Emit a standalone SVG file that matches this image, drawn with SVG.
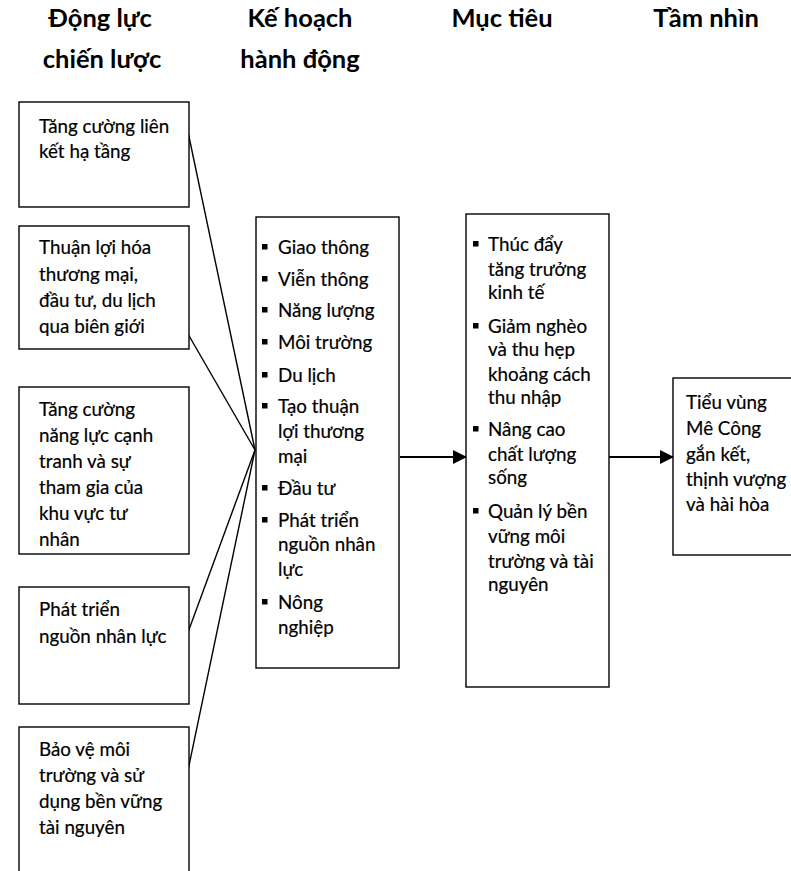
<svg xmlns="http://www.w3.org/2000/svg" width="791" height="871" viewBox="0 0 791 871">
<defs>
<style>
.t{font-family:Lato,"Noto Sans","DejaVu Sans",sans-serif;font-size:18.8px;fill:#000;stroke:#000;stroke-width:0.2}
.h{font-family:Lato,"Noto Sans","DejaVu Sans",sans-serif;font-size:25.5px;font-weight:bold;fill:#000;text-anchor:middle}
.box{fill:#fff;stroke:#000;stroke-width:1.4}
.ln{stroke:#000;stroke-width:1.4;fill:none}
.ar{stroke:#000;stroke-width:2;fill:none}
.b{fill:#000}
</style>
<marker id="ah" markerWidth="14" markerHeight="14" refX="13" refY="7" orient="auto" markerUnits="userSpaceOnUse">
<path d="M0,0 L14,7 L0,14 Z" fill="#000"/>
</marker>
</defs>
<rect width="791" height="871" fill="#fff"/>
<g id="titles">
<text class="h" x="100" y="27">Động lực</text>
<text class="h" x="102" y="68">chiến lược</text>
<text class="h" x="300" y="27">Kế hoạch</text>
<text class="h" x="300" y="68">hành động</text>
<text class="h" x="502" y="27">Mục tiêu</text>
<text class="h" x="706" y="27">Tầm nhìn</text>
</g>
<g id="connectors">
<line class="ln" x1="188" y1="132" x2="255" y2="450"/>
<line class="ln" x1="188" y1="334" x2="255" y2="450"/>
<line class="ln" x1="187" y1="635" x2="255" y2="450"/>
<line class="ln" x1="187" y1="775" x2="255" y2="450"/>
<line class="ar" x1="400" y1="457" x2="466" y2="457" marker-end="url(#ah)"/>
<line class="ar" x1="609" y1="457" x2="673" y2="457" marker-end="url(#ah)"/>
</g>
<g id="driver1">
<rect class="box" x="19" y="102" width="170" height="105"/>
<text class="t" x="39" y="133">Tăng cường liên</text>
<text class="t" x="39" y="158">kết hạ tầng</text>
</g>
<g id="driver2">
<rect class="box" x="19" y="226" width="170" height="123"/>
<text class="t" x="39" y="254">Thuận lợi hóa</text>
<text class="t" x="39" y="281">thương mại,</text>
<text class="t" x="39" y="307">đầu tư, du lịch</text>
<text class="t" x="39" y="333">qua biên giới</text>
</g>
<g id="driver3">
<rect class="box" x="19" y="387" width="170" height="167"/>
<text class="t" x="39" y="416">Tăng cường</text>
<text class="t" x="39" y="442">năng lực cạnh</text>
<text class="t" x="39" y="468">tranh và sự</text>
<text class="t" x="39" y="494">tham gia của</text>
<text class="t" x="39" y="520">khu vực tư</text>
<text class="t" x="39" y="546">nhân</text>
</g>
<g id="driver4">
<rect class="box" x="19" y="587" width="170" height="117"/>
<text class="t" x="39" y="616">Phát triển</text>
<text class="t" x="39" y="643">nguồn nhân lực</text>
</g>
<g id="driver5">
<rect class="box" x="19" y="727" width="170" height="170"/>
<text class="t" x="39" y="756">Bảo vệ môi</text>
<text class="t" x="39" y="782">trường và sử</text>
<text class="t" x="39" y="808">dụng bền vững</text>
<text class="t" x="39" y="834">tài nguyên</text>
</g>
<g id="action-plan">
<rect class="box" x="256" y="217" width="143" height="451"/>
<rect class="b" x="262" y="244" width="5.5" height="5.5"/>
<text class="t" x="278" y="254">Giao thông</text>
<rect class="b" x="262" y="276" width="5.5" height="5.5"/>
<text class="t" x="278" y="286">Viễn thông</text>
<rect class="b" x="262" y="307" width="5.5" height="5.5"/>
<text class="t" x="278" y="317">Năng lượng</text>
<rect class="b" x="262" y="339" width="5.5" height="5.5"/>
<text class="t" x="278" y="349">Môi trường</text>
<rect class="b" x="262" y="372" width="5.5" height="5.5"/>
<text class="t" x="278" y="382">Du lịch</text>
<rect class="b" x="262" y="403" width="5.5" height="5.5"/>
<text class="t" x="278" y="413">Tạo thuận</text>
<text class="t" x="278" y="438">lợi thương</text>
<text class="t" x="278" y="463">mại</text>
<rect class="b" x="262" y="485" width="5.5" height="5.5"/>
<text class="t" x="278" y="495">Đầu tư</text>
<rect class="b" x="262" y="517" width="5.5" height="5.5"/>
<text class="t" x="278" y="527">Phát triển</text>
<text class="t" x="278" y="551">nguồn nhân</text>
<text class="t" x="278" y="576">lực</text>
<rect class="b" x="262" y="599" width="5.5" height="5.5"/>
<text class="t" x="278" y="609">Nông</text>
<text class="t" x="278" y="634">nghiệp</text>
</g>
<g id="goals">
<rect class="box" x="466" y="214" width="143" height="473"/>
<rect class="b" x="473" y="241" width="5.5" height="5.5"/>
<text class="t" x="488" y="251">Thúc đẩy</text>
<text class="t" x="488" y="276">tăng trưởng</text>
<text class="t" x="488" y="299">kinh tế</text>
<rect class="b" x="473" y="323" width="5.5" height="5.5"/>
<text class="t" x="488" y="333">Giảm nghèo</text>
<text class="t" x="488" y="356">và thu hẹp</text>
<text class="t" x="488" y="381">khoảng cách</text>
<text class="t" x="488" y="404">thu nhập</text>
<rect class="b" x="473" y="426" width="5.5" height="5.5"/>
<text class="t" x="488" y="436">Nâng cao</text>
<text class="t" x="488" y="461">chất lượng</text>
<text class="t" x="488" y="484">sống</text>
<rect class="b" x="473" y="508" width="5.5" height="5.5"/>
<text class="t" x="488" y="518">Quản lý bền</text>
<text class="t" x="488" y="543">vững môi</text>
<text class="t" x="488" y="568">trường và tài</text>
<text class="t" x="488" y="591">nguyên</text>
</g>
<g id="vision">
<rect class="box" x="673" y="378" width="140" height="177"/>
<text class="t" x="686" y="409">Tiểu vùng</text>
<text class="t" x="686" y="435">Mê Công</text>
<text class="t" x="686" y="461">gắn kết,</text>
<text class="t" x="686" y="486">thịnh vượng</text>
<text class="t" x="686" y="511">và hài hòa</text>
</g>
</svg>
